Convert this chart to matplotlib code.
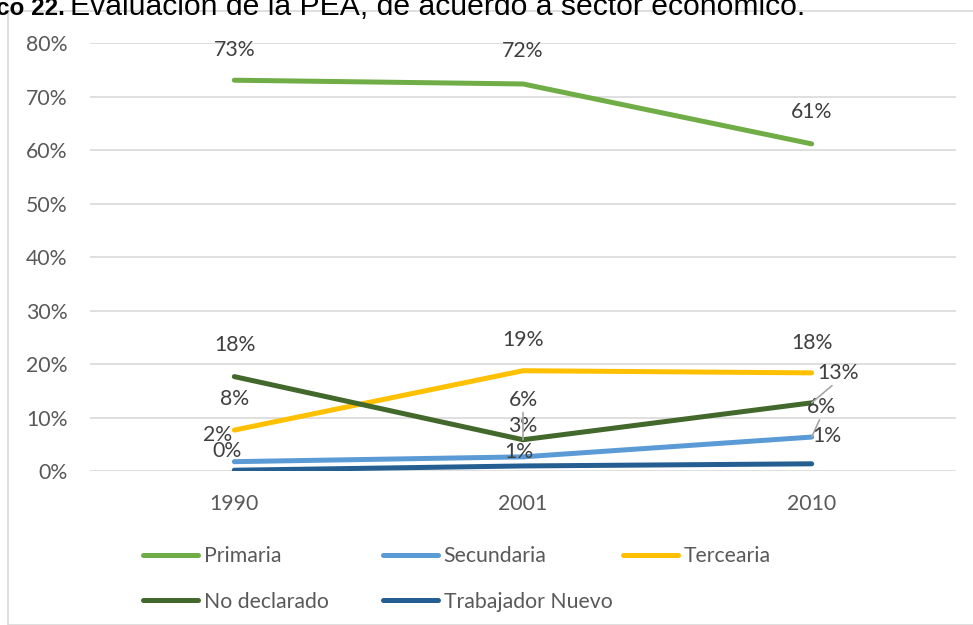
import matplotlib
matplotlib.use("Agg")
import matplotlib.pyplot as plt
from matplotlib.patches import Rectangle

plt.rcParams['font.family'] = ['Lato', 'DejaVu Sans']

years = ["1990", "2001", "2010"]
primaria = [0.731, 0.724, 0.612]
secundaria = [0.018, 0.027, 0.064]
tercearia = [0.077, 0.188, 0.184]
no_declarado = [0.177, 0.059, 0.128]
trabajador_nuevo = [0.002, 0.010, 0.014]

series = [
    ("Primaria", primaria, "#70AD47"),
    ("Secundaria", secundaria, "#5B9BD5"),
    ("Tercearia", tercearia, "#FFC000"),
    ("No declarado", no_declarado, "#43682B"),
    ("Trabajador Nuevo", trabajador_nuevo, "#255E91"),
]

# label offsets in pixels (dx, dy) per series and year, plus leader flag
offsets = {
    "Primaria": [(0, 30, False), (0, 33, False), (0, 32, False)],
    "Secundaria": [(-17, 27, False), (0, 31, False), (10, 30, True)],
    "Tercearia": [(0, 31, False), (0, 31, False), (0, 30, False)],
    "No declarado": [(1, 32, False), (0, 40, True), (26, 30, True)],
    "Trabajador Nuevo": [(-7, 19, False), (-4, 14, False), (15, 28, False)],
}

FS = 15.3
W, H = 973, 625
fig = plt.figure(figsize=(W / 100, H / 100), dpi=100)

# chart border
fig.patches.append(Rectangle((8 / W, 0), 1.2, 1 - 10.5 / H, transform=fig.transFigure,
                             fill=False, edgecolor="#d9d9d9", linewidth=1.2, zorder=0))

# caption above the chart, running off the top edge
fig.text(-4 / W, 1 - 15 / H, "co 22.", fontsize=17.5, fontweight="bold",
         family="Liberation Sans", va="baseline", ha="left")
fig.text(70 / W, 1 - 15 / H, "Evaluación de la PEA, de acuerdo a sector económico.",
         fontsize=21.7, family="Liberation Sans", va="baseline", ha="left")

ax = fig.add_axes([90 / W, (H - 471.3) / H, 866 / W, (471.3 - 43.3) / H])
x = list(range(len(years)))

handles = []
for name, vals, col in series:
    ln, = ax.plot(x, vals, color=col, linewidth=3.6, solid_capstyle="round",
                  solid_joinstyle="round", label=name, zorder=3)
    handles.append(ln)
    for i, v in enumerate(vals):
        dx, dy, leader = offsets[name][i]
        kw = {}
        if leader:
            kw["arrowprops"] = dict(arrowstyle="-", color="#a6a6a6", lw=1.2,
                                    shrinkA=0, shrinkB=0, relpos=(0.5, 0.1))
        ax.annotate(f"{v * 100:.0f}%", (i, v), xytext=(dx, dy), textcoords="offset pixels",
                    ha="center", va="center", fontsize=FS, color="#404040", zorder=4, **kw)

ax.set_xlim(-0.5, 2.5)
ax.set_ylim(0, 0.8)
ax.set_yticks([i / 10 for i in range(9)])
ax.set_yticklabels([f"{i * 10}%" for i in range(9)])
ax.set_xticks(x)
ax.set_xticklabels(years)
ax.tick_params(axis="both", length=0, labelsize=FS, labelcolor="#595959")
ax.tick_params(axis="y", pad=16)
ax.tick_params(axis="x", pad=16)
ax.grid(axis="y", color="#d9d9d9", linewidth=1.2)
ax.set_axisbelow(True)
for s in ax.spines.values():
    s.set_visible(False)

# legend laid out as three columns sharing the same top edge
cols = [([handles[0], handles[3]], 143), ([handles[1], handles[4]], 383),
        ([handles[2]], 623)]
for hs, lx in cols:
    fig.legend(handles=hs, loc="upper left", bbox_to_anchor=(lx / W, 1 - 546 / H),
               frameon=False, fontsize=FS, labelcolor="#595959", handlelength=2.6,
               handletextpad=0.25, borderpad=0, borderaxespad=0, labelspacing=1.2)

fig.savefig("out.png", dpi=100)
